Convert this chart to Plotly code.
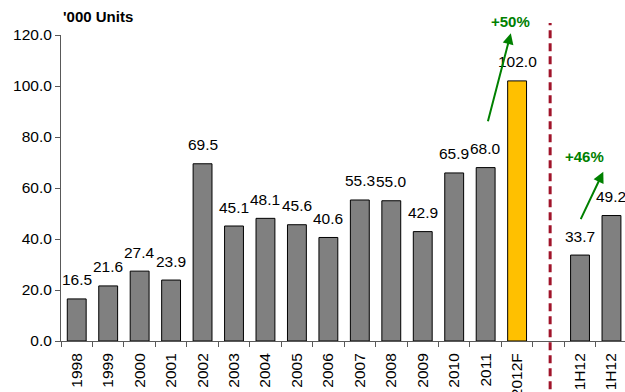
import plotly.graph_objects as go

# Annual unit volumes ('000), with a forecast year and two half-year figures
categories = ["1998", "1999", "2000", "2001", "2002", "2003", "2004", "2005",
              "2006", "2007", "2008", "2009", "2010", "2011", "2012F",
              "sep", "1H11", "1H12"]
tick_labels = ["1998", "1999", "2000", "2001", "2002", "2003", "2004", "2005",
               "2006", "2007", "2008", "2009", "2010", "2011", "2012F",
               "", "1H12", "1H12"]
values = [16.5, 21.6, 27.4, 23.9, 69.5, 45.1, 48.1, 45.6,
          40.6, 55.3, 55.0, 42.9, 65.9, 68.0, 102.0,
          None, 33.7, 49.2]
y_ticks = [0, 20, 40, 60, 80, 100, 120]

GREY = "#808080"
GOLD = "#FFC000"
GREEN = "#008000"
DARK_RED = "#A0142A"
FONT = "Arial, Liberation Sans, sans-serif"

bar_colors = [GOLD if c == "2012F" else GREY for c in categories]

fig = go.Figure()
fig.add_trace(go.Bar(
    x=categories,
    y=values,
    width=0.6,
    marker=dict(color=bar_colors, line=dict(color="black", width=1)),
    hoverinfo="skip",
))

# value labels above each bar (category index used as x position)
annotations = []
for i, v in enumerate(values):
    if v is None:
        continue
    annotations.append(dict(
        x=i, y=v, xref="x", yref="y", text=f"{v:.1f}", showarrow=False,
        yanchor="middle", yshift=19, font=dict(family=FONT, size=15.5, color="black"),
    ))

# growth arrows and labels
annotations += [
    dict(x=13.80, y=120.7, ax=13.06, ay=85.6, xref="x", yref="y", axref="x", ayref="y",
         text="", showarrow=True, arrowhead=2, arrowsize=1.1, arrowwidth=2, arrowcolor=GREEN),
    dict(x=498 / 625, y=1.045, xref="paper", yref="paper", text="<b>+50%</b>", showarrow=False,
         xanchor="center", yanchor="middle", font=dict(family=FONT, size=15, color=GREEN)),
    dict(x=16.74, y=66.4, ax=16.00, ay=47.2, xref="x", yref="y", axref="x", ayref="y",
         text="", showarrow=True, arrowhead=2, arrowsize=1.1, arrowwidth=2, arrowcolor=GREEN),
    dict(x=16.14, y=72.4, xref="x", yref="y", text="<b>+46%</b>", showarrow=False,
         font=dict(family=FONT, size=15, color=GREEN)),
    dict(x=0, y=1.06, xref="paper", yref="paper", xanchor="left", yanchor="middle",
         text="<b>'000 Units</b>", showarrow=False,
         font=dict(family=FONT, size=15, color="black")),
]

fig.update_layout(
    width=625, height=392,
    margin=dict(l=61, r=0, t=35, b=51, autoexpand=False),
    paper_bgcolor="white", plot_bgcolor="white",
    showlegend=False,
    bargap=0.4,
    annotations=annotations,
    shapes=[dict(type="line", xref="x", yref="paper", x0=15.05, x1=15.05,
                 y0=-0.2, y1=1.039, line=dict(color=DARK_RED, width=3, dash="8px,5px"))],
    xaxis=dict(
        type="category", categoryorder="array", categoryarray=categories,
        tickmode="array", tickvals=categories, ticktext=tick_labels,
        tickson="boundaries", ticks="outside", ticklen=5, tickcolor="#595959",
        showline=True, linecolor="#595959", linewidth=1,
        tickangle=-90, tickfont=dict(family=FONT, size=15.5, color="black"),
        ticklabelstandoff=5, automargin=False,
        range=[-0.5, 17.43], showgrid=False, zeroline=False,
    ),
    yaxis=dict(
        range=[0, 120], tickmode="array", tickvals=y_ticks,
        tickformat=".1f", ticks="outside", ticklen=5, tickcolor="#595959",
        showline=True, linecolor="#595959", linewidth=1, automargin=False,
        tickfont=dict(family=FONT, size=15.5, color="black"),
        showgrid=False, zeroline=False,
    ),
)

fig.write_html("out.html")
